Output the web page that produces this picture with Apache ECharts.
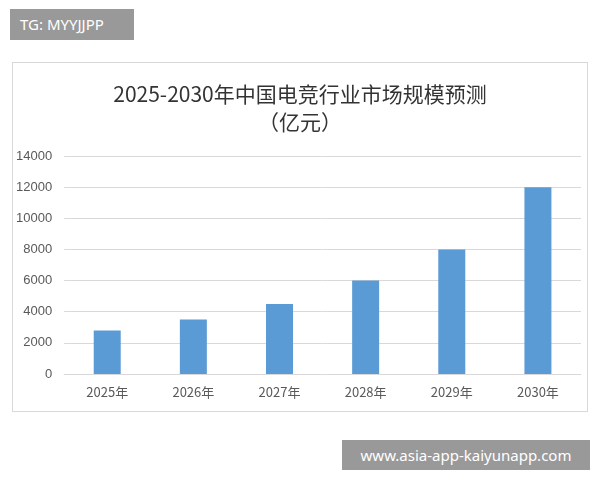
<!DOCTYPE html>
<html><head><meta charset="utf-8">
<script src="https://cdn.jsdelivr.net/npm/echarts@6/dist/echarts.min.js"></script>
<style>
body{margin:0;background:#fff;}
#wrap{position:relative;width:600px;height:480px;}
#chart{position:absolute;left:12px;top:62px;width:576px;height:350px;border:1px solid #d9d9d9;box-sizing:border-box;}
.tag{position:absolute;background:#999;color:#fff;font-family:"Noto Sans","DejaVu Sans",sans-serif;}
</style></head>
<body><div id="wrap">
<div class="tag" style="left:10px;top:9px;width:124px;height:31px;line-height:31px;font-size:15px;padding-left:10px;box-sizing:border-box;">TG: MYYJJPP</div>
<div id="chart"></div>
<div class="tag" style="left:342px;top:440px;width:248px;height:30px;line-height:30px;font-size:15px;text-align:center;">www.asia-app-kaiyunapp.com</div>
</div>
<script>
var years = ['2025年','2026年','2027年','2028年','2029年','2030年'];
var values = [2800, 3500, 4500, 6000, 8000, 12000];
var chart = echarts.init(document.getElementById('chart'));
chart.setOption({
  animation: false,
  title: {
    text: '2025-2030年中国电竞行业市场规模预测\n（亿元）',
    left: 'center', top: 12,
    textStyle: {fontSize: 21, fontWeight: 'normal', color: '#333', lineHeight: 28,
      fontFamily: '"Noto Sans CJK SC", sans-serif'}
  },
  grid: {left: 50, right: 6, top: 93, bottom: 37},
  xAxis: {
    type: 'category', data: years,
    axisTick: {show: false},
    axisLine: {lineStyle: {color: '#d9d9d9'}},
    axisLabel: {color: '#595959', fontSize: 13, margin: 12, fontFamily: '"Noto Sans CJK SC", sans-serif'}
  },
  yAxis: {
    type: 'value', min: 0, max: 14000, interval: 2000,
    axisLabel: {color: '#595959', fontSize: 13, margin: 12, formatter: function (v) { return String(v); }},
    splitLine: {lineStyle: {color: '#d9d9d9'}}
  },
  series: [{
    type: 'bar', data: values, barWidth: 27,
    itemStyle: {color: '#5b9bd5'}
  }]
});
</script></body></html>
